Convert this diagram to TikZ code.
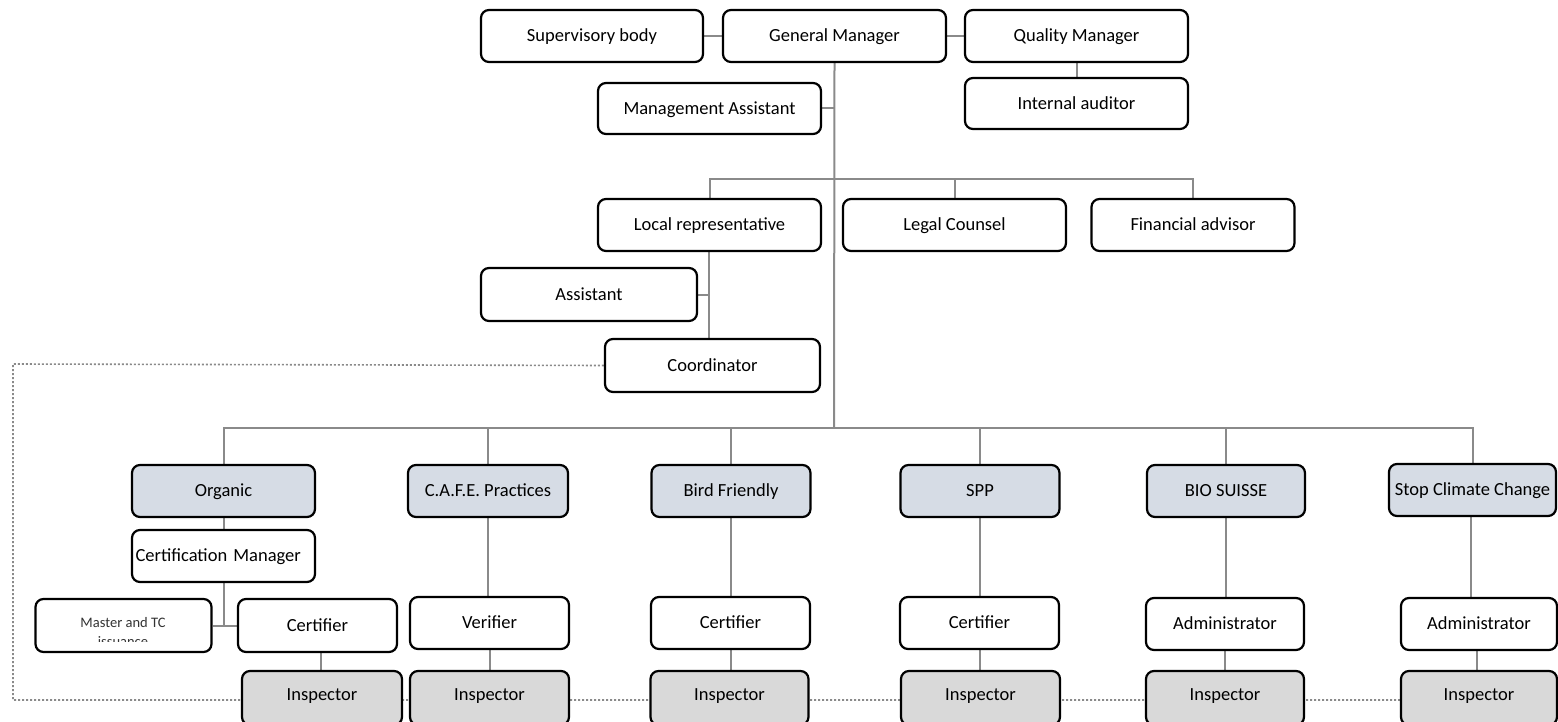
\documentclass[tikz,border=0pt]{standalone}
\usepackage{fontspec}
\setmainfont{Carlito}
\definecolor{lnGray}{HTML}{8A8A8A}
\definecolor{lvlFill}{HTML}{D6DCE5}
\definecolor{inspFill}{HTML}{D9D9D9}
\definecolor{smallText}{HTML}{333333}
\pgfdeclarelayer{bg}
\pgfsetlayers{bg,main}
\tikzset{
  box/.style={draw=black, line width=2.2pt, rounded corners=8pt, fill=white,
    inner sep=0pt, align=center, text height=13.5pt, text depth=2pt,
    font=\fontsize{18.5}{21}\selectfont},
  lvl/.style={box, fill=lvlFill},
  insp/.style={box, fill=inspFill, text depth=8pt},
  conn/.style={draw=lnGray, line width=2pt},
  dotln/.style={draw=lnGray, line width=1.6pt, dash pattern=on 2pt off 2pt},
}
\begin{document}
\begin{tikzpicture}[x=1pt,y=-1pt]
\clip (0,0) rectangle (1558,722);
% top
\node[box, minimum width=222pt, minimum height=52pt] (sup) at (592,36) {Supervisory body};
\node[box, minimum width=223pt, minimum height=52pt] (gm) at (834.5,36) {General Manager};
\node[box, minimum width=223pt, minimum height=52pt] (qm) at (1076.5,36) {Quality Manager};
\node[box, minimum width=223pt, minimum height=51pt] (ia) at (1076.5,103.5) {Internal auditor};
\node[box, minimum width=223pt, minimum height=51pt] (ma) at (709.5,108.5) {Management Assistant};
% middle
\node[box, minimum width=223pt, minimum height=52pt] (lr) at (709.5,225) {Local representative};
\node[box, minimum width=223pt, minimum height=52pt] (lc) at (954.5,225) {Legal Counsel};
\node[box, minimum width=203pt, minimum height=52pt] (fa) at (1193,225) {Financial advisor};
\node[box, minimum width=216pt, minimum height=53pt] (as) at (589,294.5) {Assistant};
\node[box, minimum width=215pt, minimum height=53pt] (co) at (712.5,365.5) {Coordinator};
% level row
\node[lvl, minimum width=183pt, minimum height=52pt] (org) at (223.5,491) {Organic};
\node[lvl, minimum width=160pt, minimum height=52pt] (cafe) at (488,491) {C.A.F.E. Practices};
\node[lvl, minimum width=159pt, minimum height=52pt] (bird) at (731,491) {Bird Friendly};
\node[lvl, minimum width=159pt, minimum height=52pt] (spp) at (980,491) {SPP};
\node[lvl, minimum width=158pt, minimum height=52pt] (bio) at (1226,491) {BIO SUISSE};
\node[lvl, minimum width=167pt, minimum height=52pt] (scc) at (1472.5,490) {Stop Climate Change};
% organic column
\node[box, minimum width=183pt, minimum height=52pt, text width=176pt, align=left] (cm) at (223.5,556) {Certification Manager};
\node[box, minimum width=176pt, minimum height=53pt] (mtc) at (123.5,625.5) {};
\begin{scope}
  \clip (38,602) rectangle (210,641);
  \node[align=center, inner sep=0pt, text=smallText, font=\fontsize{14.5}{19}\selectfont] (mtctext) at (123,632.5) {Master and TC\\issuance};
\end{scope}
\node[box, minimum width=159pt, minimum height=53pt] (c1) at (317.5,625.5) {Certifier};
\node[box, minimum width=159pt, minimum height=52pt] (v2) at (489.5,623) {Verifier};
\node[box, minimum width=159pt, minimum height=52pt] (c3) at (730.5,623) {Certifier};
\node[box, minimum width=159pt, minimum height=52pt] (c4) at (979.5,623) {Certifier};
\node[box, minimum width=158pt, minimum height=52pt] (a5) at (1225,624) {Administrator};
\node[box, minimum width=156pt, minimum height=52pt] (a6) at (1479,624) {Administrator};
% inspectors
\node[insp, minimum width=160pt, minimum height=54pt] (i1) at (322,698) {Inspector};
\node[insp, minimum width=159pt, minimum height=54pt] (i2) at (489.5,698) {Inspector};
\node[insp, minimum width=158pt, minimum height=54pt] (i3) at (729.5,698) {Inspector};
\node[insp, minimum width=159pt, minimum height=54pt] (i4) at (980.5,698) {Inspector};
\node[insp, minimum width=158pt, minimum height=54pt] (i5) at (1225,698) {Inspector};
\node[insp, minimum width=156pt, minimum height=54pt] (i6) at (1479,698) {Inspector};
% connectors
\coordinate (bt) at (834,179);
\coordinate (bb) at (834,428);
\coordinate (d1) at (13,364);
\coordinate (d2) at (13,700);
\begin{pgfonlayer}{bg}
  \draw[conn] (sup.east) -- (gm.west);
  \draw[conn] (gm.east) -- (qm.west);
  \draw[conn] (qm.south) -- (ia.north);
  \draw[conn] (gm.south) -- (bb);
  \draw[conn] (ma.east) -- (ma.east -| gm.south);
  \draw[conn] (lr.north) |- (fa.north |- bt) -- (fa.north);
  \draw[conn] (lc.north) -- (lc.north |- bt);
  \draw[conn] ([xshift=-1pt]lr.south) -- ([xshift=-1pt]lr.south |- co.north);
  \draw[conn] (as.east) -- ([xshift=-1pt]as.east -| lr.south);
  \draw[conn] (org.north) |- (scc.north |- bb) -- (scc.north);
  \draw[conn] (cafe.north) -- (cafe.north |- bb);
  \draw[conn] (bird.north) -- (bird.north |- bb);
  \draw[conn] (spp.north) -- (spp.north |- bb);
  \draw[conn] (bio.north) -- (bio.north |- bb);
  \draw[conn] (org.south) -- (cm.north);
  \draw[conn] (cm.south) -- (cm.south |- mtc.east);
  \draw[conn] (mtc.east) -- (c1.west |- mtc.east);
  \draw[conn] ([xshift=3pt]c1.south) -- ([xshift=3pt]c1.south |- i1.north);
  \draw[conn] (cafe.south) -- (cafe.south |- v2.north);
  \draw[conn] (v2.south) -- (v2.south |- i2.north);
  \draw[conn] (bird.south) -- (bird.south |- c3.north);
  \draw[conn] (c3.south) -- (c3.south |- i3.north);
  \draw[conn] (spp.south) -- (spp.south |- c4.north);
  \draw[conn] (c4.south) -- (c4.south |- i4.north);
  \draw[conn] (bio.south) -- (bio.south |- a5.north);
  \draw[conn] (a5.south) -- (a5.south |- i5.north);
  \draw[conn] ([xshift=-2pt]scc.south) -- ([xshift=-2pt]scc.south |- a6.north);
  \draw[conn] ([xshift=-2pt]a6.south) -- ([xshift=-2pt]a6.south |- i6.north);
  \draw[dotln] (co.west) -- (d1) -- (d2) -- (d2 -| i6.west);
\end{pgfonlayer}
\end{tikzpicture}
\end{document}
